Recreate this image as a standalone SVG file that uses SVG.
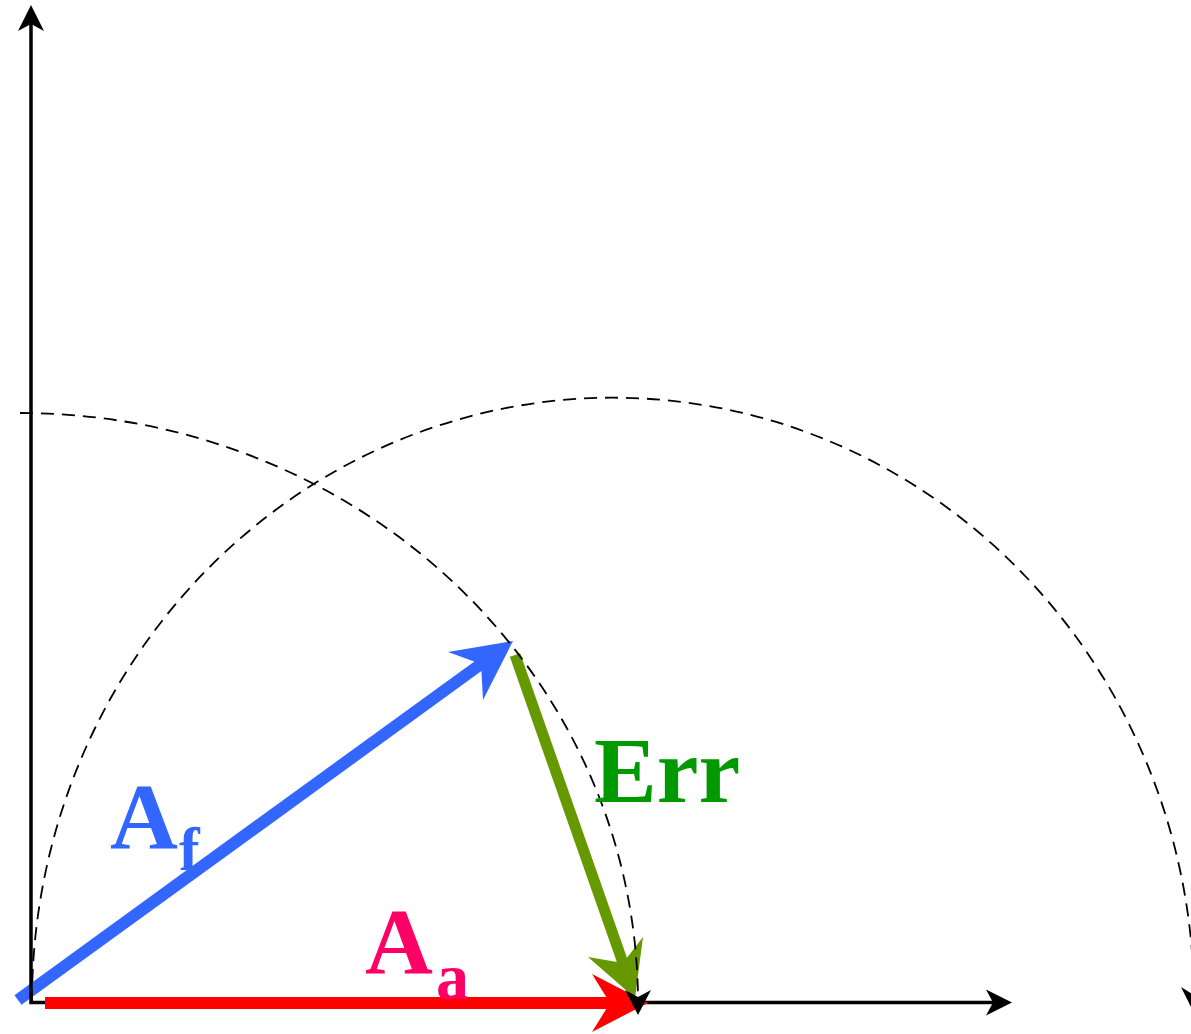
<svg xmlns="http://www.w3.org/2000/svg" width="1191" height="1034" viewBox="0 0 1191 1034">
<style>
.axis{stroke:#000;stroke-width:3.5;fill:none}
.dash{stroke:#000;stroke-width:1.8;fill:none;stroke-dasharray:13 8}
.lbl{font-family:"Liberation Serif","Times New Roman",serif;font-weight:bold}
</style>
<rect width="1191" height="1034" fill="#fff"/>
<g id="connectors">
  <g id="vec-af">
    <line x1="18" y1="1000" x2="481" y2="664" stroke="#3366FF" stroke-width="12"/>
    <path d="M513,641 L448,652 L481,664 L483,700 Z" fill="#3366FF"/>
  </g>
  <g id="axes">
    <path class="axis" d="M31,24 L31,1002.5 L993,1002.5"/>
    <path d="M31,5 L18,31 L31,24 L44,31 Z" fill="#000"/>
    <path d="M1012,1002.5 L986,989.5 L993,1002.5 L986,1015.5 Z" fill="#000"/>
  </g>
  <g id="vec-aa">
    <line x1="45" y1="1003" x2="612" y2="1003" stroke="#FF0000" stroke-width="12"/>
    <path d="M648,1003 L592,974 L610,1003 L592,1032 Z" fill="#FF0000"/>
  </g>
  <g id="vec-err">
    <line x1="515" y1="655" x2="623" y2="963" stroke="#669900" stroke-width="11"/>
    <path d="M635,998 L588,957 L623,963 L643,937 Z" fill="#669900"/>
  </g>
  <g id="arcs">
    <path class="dash" d="M20,413 A618,590 0 0 1 638,1000"/>
    <path d="M638,1015 L625,990 L638,997 L651,990 Z" fill="#000"/>
    <path class="dash" d="M32,1003 A581,604 0 0 1 1194,1000"/>
    <path d="M1194,1013 L1181,987 L1194,995 L1207,987 Z" fill="#000"/>
  </g>
</g>
<g id="label-af">
  <text class="lbl" x="110" y="848" font-size="94" fill="#3366FF">A</text>
  <text class="lbl" x="179" y="870" font-size="62" fill="#3366FF">f</text>
</g>
<g id="label-aa">
  <text class="lbl" x="365" y="973" font-size="94" fill="#FF0066">A</text>
  <text class="lbl" x="436" y="999" font-size="66" fill="#FF0066">a</text>
</g>
<g id="label-err">
  <text class="lbl" x="594" y="802" font-size="94" fill="#009900">Err</text>
</g>
</svg>
